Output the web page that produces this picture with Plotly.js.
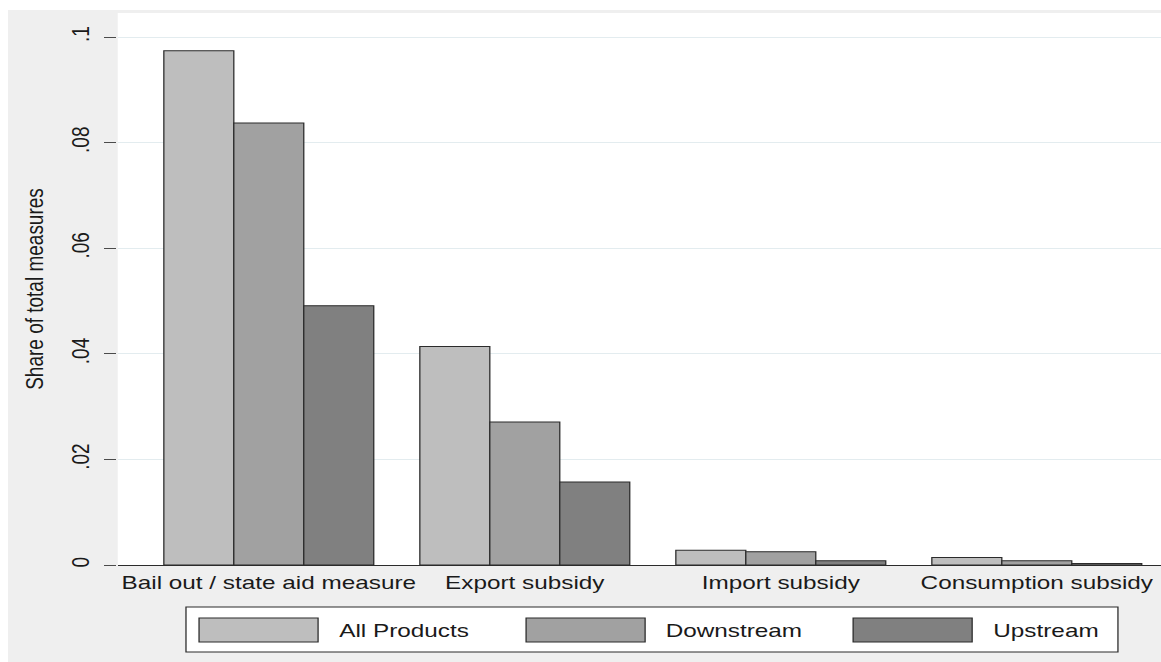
<!DOCTYPE html>
<html>
<head>
<meta charset="utf-8">
<script src="https://cdn.plot.ly/plotly-3.0.1.min.js"></script>
<style>
  html, body { margin: 0; padding: 0; background: #ffffff; overflow: hidden; }
  #wrap { position: absolute; left: 0; top: 0; width: 907px; height: 662px;
          transform: scaleX(1.28); transform-origin: 0 0; }
  #chart { width: 907px; height: 662px; }
  .edge { position: absolute; background: #ffffff; z-index: 5; }
</style>
</head>
<body>
<div id="wrap"><div id="chart"></div></div>
<div class="edge" style="left:0;top:0;width:1161px;height:10px;"></div>
<div class="edge" style="left:0;top:0;width:8px;height:662px;"></div>
<script>
// ---- data ----
const categories = ["Bail out / state aid measure", "Export subsidy", "Import subsidy", "Consumption subsidy"];
const seriesNames = ["All Products", "Downstream", "Upstream"];
const allProducts = [0.0974, 0.0414, 0.0028, 0.0014];
const downstream  = [0.0837, 0.0271, 0.0025, 0.0008];
const upstream    = [0.0491, 0.0157, 0.0008, 0.0003];
const yTickVals = [0, 0.02, 0.04, 0.06, 0.08, 0.1];
const yTickText = ["0", ".02", ".04", ".06", ".08", ".1"];

// ---- styling ----
const colors = ["#bebebe", "#a1a1a1", "#808080"];
const W = 907, H = 662;
const M = { l: 92, r: 0, t: 13, b: 97 };
const PW = W - M.l - M.r, PH = H - M.t - M.b;
const FONT = "Liberation Sans, Arial, Helvetica, sans-serif";

const values = [allProducts, downstream, upstream];
const idx = categories.map((c, i) => i);

const traces = seriesNames.map((name, s) => ({
  type: "bar",
  name: name,
  x: idx,
  y: values[s],
  marker: { color: colors[s], line: { color: "#2b2b2b", width: 1 } },
  showlegend: false,
  hoverinfo: "skip"
}));

// custom legend (Stata-style wide swatches), placed in paper coordinates
const px = v => (v - M.l) / PW;
const py = v => (H - M.b - v) / PH;
const shapes = [];
const annotations = [];
shapes.push({ type: "rect", xref: "paper", yref: "paper",
  x0: px(145.3), x1: px(873.4), y0: py(652), y1: py(607),
  fillcolor: "#ffffff", line: { color: "#2b2b2b", width: 1 } });
const legStart = 155.5, legStep = 255.5, swW = 93;
seriesNames.forEach((name, s) => {
  const x0 = legStart + s * legStep;
  shapes.push({ type: "rect", xref: "paper", yref: "paper",
    x0: px(x0), x1: px(x0 + swW), y0: py(642), y1: py(618),
    fillcolor: colors[s], line: { color: "#2b2b2b", width: 1 } });
  annotations.push({ xref: "paper", yref: "paper", x: px(x0 + 107), y: py(630),
    text: name, showarrow: false, xanchor: "left", yanchor: "middle",
    font: { family: FONT, size: 19, color: "#1a1a1a" } });
});

const layout = {
  width: W, height: H,
  margin: M,
  paper_bgcolor: "#efefef",
  plot_bgcolor: "#ffffff",
  barmode: "group",
  bargap: 0.18,
  bargroupgap: 0,
  showlegend: false,
  font: { family: FONT, size: 19, color: "#1a1a1a" },
  xaxis: {
    range: [-0.59, -0.59 + PW / 200],
    tickvals: idx, ticktext: categories,
    showgrid: false, zeroline: false,
    showline: true, linecolor: "#2b2b2b", linewidth: 1,
    ticks: "", tickfont: { family: FONT, size: 19, color: "#1a1a1a" },
    automargin: false, fixedrange: true
  },
  yaxis: {
    range: [0, (H - M.b - M.t) / 5280],
    tickvals: yTickVals, ticktext: yTickText,
    tickangle: -90,
    ticks: "outside", ticklen: 10, tickcolor: "#4a4a4a", tickwidth: 1,
    ticklabelstandoff: 4,
    showgrid: true, gridcolor: "#e3ecef", gridwidth: 1,
    zeroline: false, showline: false,
    tickfont: { family: FONT, size: 19, color: "#1a1a1a" },
    title: { text: "Share of total measures", standoff: 13,
             font: { family: FONT, size: 19, color: "#1a1a1a" } },
    automargin: false, fixedrange: true
  },
  shapes: shapes,
  annotations: annotations
};

Plotly.newPlot("chart", traces, layout, { staticPlot: true, displayModeBar: false, responsive: false });
</script>
</body>
</html>
